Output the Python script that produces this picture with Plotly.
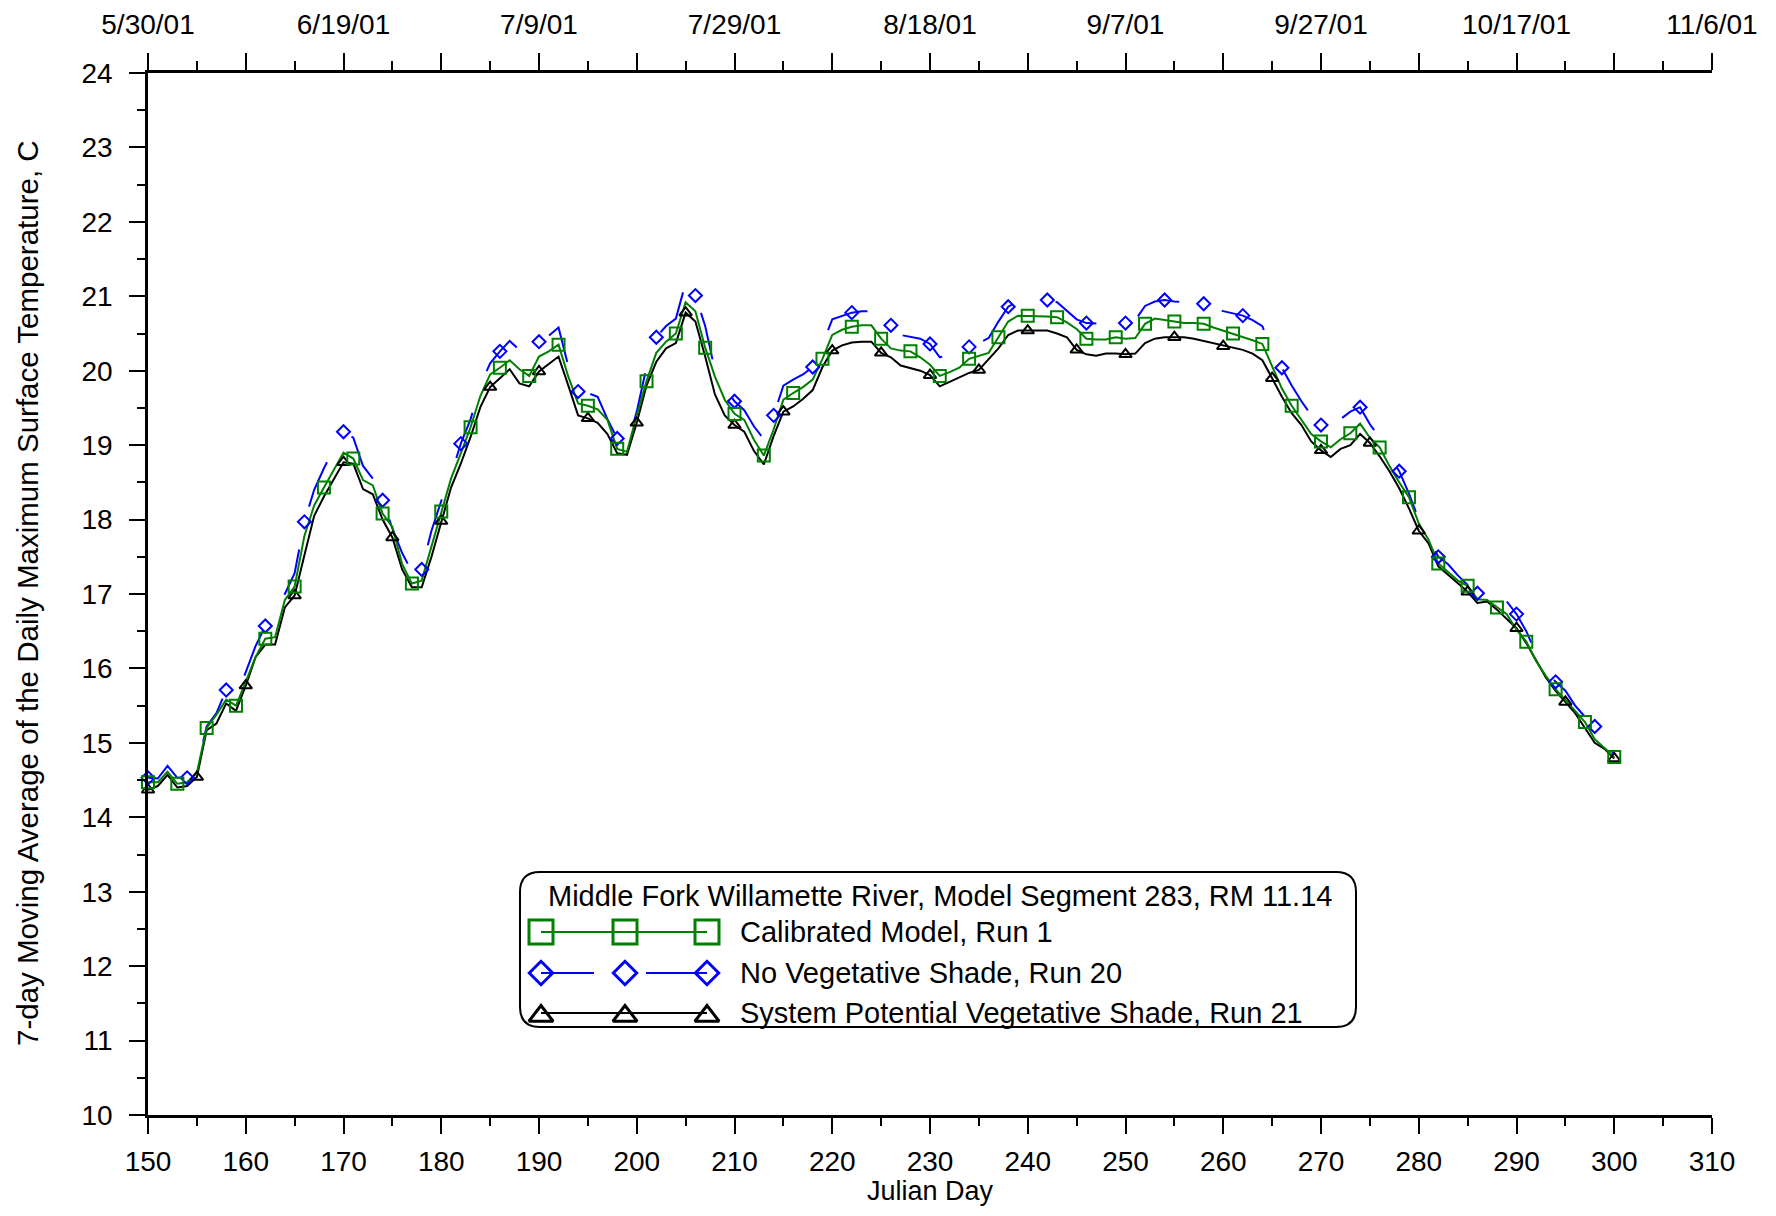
import plotly.graph_objects as go

# ---------------- data ----------------
days = list(range(150, 301))

calibrated_run1 = [
    14.47, 14.47, 14.61, 14.45, 14.47, 14.60, 15.20, 15.38, 15.58, 15.50,  # 150-159
    15.82, 16.15, 16.40, 16.42, 16.92, 17.10, 17.78, 18.19, 18.43, 18.67,  # 160-169
    18.90, 18.82, 18.53, 18.46, 18.08, 17.90, 17.40, 17.14, 17.18, 17.64,  # 170-179
    18.11, 18.55, 18.89, 19.24, 19.66, 19.95, 20.04, 20.14, 20.02, 19.93,  # 180-189
    20.19, 20.26, 20.35, 19.92, 19.56, 19.53, 19.48, 19.34, 18.95, 18.91,  # 190-199
    19.40, 19.86, 20.24, 20.39, 20.50, 20.92, 20.80, 20.31, 19.92, 19.61,  # 200-209
    19.42, 19.34, 19.07, 18.86, 19.21, 19.61, 19.70, 19.78, 19.88, 20.16,  # 210-219
    20.48, 20.55, 20.59, 20.61, 20.61, 20.43, 20.30, 20.27, 20.26, 20.18,  # 220-229
    20.08, 19.93, 19.98, 20.04, 20.16, 20.20, 20.24, 20.45, 20.66, 20.74,  # 230-239
    20.74, 20.74, 20.73, 20.72, 20.65, 20.56, 20.43, 20.42, 20.42, 20.45,  # 240-249
    20.43, 20.44, 20.63, 20.70, 20.68, 20.66, 20.64, 20.64, 20.63, 20.58,  # 250-259
    20.54, 20.50, 20.45, 20.41, 20.36, 20.05, 19.76, 19.53, 19.34, 19.15,  # 260-269
    19.05, 18.97, 19.08, 19.16, 19.29, 19.10, 18.97, 18.72, 18.50, 18.30,  # 270-279
    17.95, 17.73, 17.41, 17.30, 17.18, 17.11, 16.93, 16.92, 16.82, 16.73,  # 280-289
    16.52, 16.36, 16.10, 15.90, 15.72, 15.58, 15.43, 15.28, 15.05, 14.93,  # 290-299
    14.81,                                                                 # 300
]

no_veg_shade_run20 = [
    14.53, 14.52, 14.69, 14.53, 14.53, 14.65, 15.22, 15.40, 15.71, 15.62,
    15.95, 16.30, 16.57, 16.66, 17.00, 17.28, 17.97, 18.40, 18.69, 18.95,
    19.18, 19.10, 18.72, 18.55, 18.26, 17.88, 17.55, 17.30, 17.33, 17.85,
    18.25, 18.60, 19.02, 19.35, 19.80, 20.10, 20.26, 20.40, 20.28, 20.20,
    20.39, 20.47, 20.58, 20.06, 19.72, 19.70, 19.65, 19.35, 19.09, 19.00,
    19.45, 20.05, 20.45, 20.60, 20.70, 21.18, 21.01, 20.60, 20.00, 19.78,
    19.59, 19.47, 19.25, 19.08, 19.40, 19.80, 19.88, 19.95, 20.05, 20.35,
    20.69, 20.74, 20.78, 20.80, 20.80, 20.68, 20.61, 20.48, 20.45, 20.43,
    20.36, 20.18, 20.22, 20.28, 20.32, 20.37, 20.44, 20.66, 20.86, 20.93,
    20.95, 20.95, 20.95, 20.92, 20.80, 20.69, 20.64, 20.63, 20.63, 20.64,
    20.64, 20.68, 20.87, 20.93, 20.95, 20.93, 20.92, 20.92, 20.90, 20.86,
    20.80, 20.77, 20.74, 20.68, 20.60, 20.25, 20.04, 19.80, 19.59, 19.40,
    19.27, 19.25, 19.35, 19.45, 19.51, 19.28, 19.10, 18.85, 18.65, 18.35,
    18.00, 17.75, 17.50, 17.40, 17.25, 17.12, 17.01, 17.03, 16.94, 16.90,
    16.73, 16.50, 16.20, 15.98, 15.82, 15.70, 15.50, 15.35, 15.22, 15.00,
    14.85,
]

system_potential_run21 = [
    14.37, 14.42, 14.57, 14.40, 14.42, 14.54, 15.17, 15.26, 15.53, 15.43,
    15.77, 16.15, 16.32, 16.32, 16.82, 16.98, 17.52, 18.05, 18.31, 18.55,
    18.77, 18.75, 18.41, 18.34, 18.00, 17.76, 17.33, 17.09, 17.09, 17.50,
    17.98, 18.43, 18.75, 19.11, 19.51, 19.78, 19.90, 20.02, 19.83, 19.79,
    19.99, 20.09, 20.19, 19.80, 19.40, 19.36, 19.30, 19.15, 18.89, 18.87,
    19.30, 19.80, 20.12, 20.30, 20.37, 20.78, 20.66, 20.19, 19.68, 19.40,
    19.27, 19.18, 18.92, 18.74, 19.12, 19.45, 19.52, 19.62, 19.74, 20.05,
    20.27, 20.34, 20.38, 20.39, 20.39, 20.24, 20.18, 20.07, 20.03, 20.00,
    19.94, 19.79, 19.85, 19.91, 19.97, 20.01, 20.15, 20.30, 20.48, 20.54,
    20.54, 20.54, 20.54, 20.50, 20.45, 20.28, 20.22, 20.20, 20.23, 20.23,
    20.22, 20.23, 20.37, 20.43, 20.45, 20.45, 20.45, 20.43, 20.40, 20.36,
    20.33, 20.30, 20.28, 20.23, 20.14, 19.90, 19.65, 19.43, 19.27, 19.05,
    18.93, 18.84, 18.95, 19.00, 19.15, 19.03, 18.85, 18.65, 18.42, 18.15,
    17.85, 17.68, 17.37, 17.26, 17.14, 17.03, 16.88, 16.90, 16.79, 16.67,
    16.54, 16.34, 16.10, 15.88, 15.70, 15.55, 15.40, 15.20, 15.00, 14.92,
    14.79,
]

series_names = [
    "Calibrated Model, Run 1",
    "No Vegetative Shade, Run 20",
    "System Potential Vegetative Shade, Run 21",
]
legend_title = "Middle Fork Willamette River, Model Segment 283, RM 11.14"

top_tick_days = [150, 160, 170, 180, 190, 200, 210, 220, 230, 240, 250, 260, 270, 280, 290, 300, 310]
top_tick_text = ["5/30/01", "", "6/19/01", "", "7/9/01", "", "7/29/01", "", "8/18/01", "",
                 "9/7/01", "", "9/27/01", "", "10/17/01", "", "11/6/01"]

# ---------------- styling ----------------
FONT = "Arial, 'Liberation Sans', sans-serif"
GREEN, BLUE, BLACK = "#008000", "#0000FF", "#000000"
PAGE_PAD = 8                       # default body margin of the html page
W, H = 1776 - 2 * PAGE_PAD, 1216 - 2 * PAGE_PAD
# plot-area edges, in page pixels
PL, PR, PT, PB = 148, 1712, 73, 1115

def paper_x(px):
    return (px - PL) / (PR - PL)

def paper_y(py):
    return (PB - py) / (PB - PT)

fig = go.Figure()

# daily lines
fig.add_trace(go.Scatter(x=days, y=system_potential_run21, mode="lines",
                         line=dict(color=BLACK, width=2), showlegend=False, hoverinfo="skip"))
fig.add_trace(go.Scatter(x=days, y=no_veg_shade_run20, mode="lines",
                         line=dict(color=BLUE, width=2, dash="48px,44px"), showlegend=False, hoverinfo="skip"))
fig.add_trace(go.Scatter(x=days, y=calibrated_run1, mode="lines",
                         line=dict(color=GREEN, width=2), showlegend=False, hoverinfo="skip"))

# markers on a subset of the days
fig.add_trace(go.Scatter(x=days[::5], y=system_potential_run21[::5], mode="markers",
                         marker=dict(symbol="triangle-up-open", size=11, color=BLACK,
                                     line=dict(width=2, color=BLACK)),
                         showlegend=False, cliponaxis=False))
fig.add_trace(go.Scatter(x=days[::4], y=no_veg_shade_run20[::4], mode="markers",
                         marker=dict(symbol="diamond-open", size=10, color=BLUE,
                                     line=dict(width=2, color=BLUE)),
                         showlegend=False, cliponaxis=False))
fig.add_trace(go.Scatter(x=days[::3], y=calibrated_run1[::3], mode="markers",
                         marker=dict(symbol="square-open", size=12, color=GREEN,
                                     line=dict(width=2, color=GREEN)),
                         showlegend=False, cliponaxis=False))

# invisible trace for the top date axis
fig.add_trace(go.Scatter(x=days, y=calibrated_run1, xaxis="x2", mode="lines",
                         line=dict(color="rgba(0,0,0,0)", width=0), showlegend=False, hoverinfo="skip"))

# ---------------- hand-built legend (pixel helper axes x3/y3) ----------------
BX0, BX1, BY0, BY1, RAD = 520, 1356, 872, 1027, 20
MX = [541, 625, 707]
ROW_Y = [932, 973, 1013]
LABEL_X = 738

box_path = (f"M {BX0+RAD},{BY0} L {BX1-RAD},{BY0} Q {BX1},{BY0} {BX1},{BY0+RAD} "
            f"L {BX1},{BY1-RAD} Q {BX1},{BY1} {BX1-RAD},{BY1} L {BX0+RAD},{BY1} "
            f"Q {BX0},{BY1} {BX0},{BY1-RAD} L {BX0},{BY0+RAD} Q {BX0},{BY0} {BX0+RAD},{BY0} Z")

leg_styles = [
    (GREEN, "square-open", 24, [(MX[0], MX[2])]),
    (BLUE, "diamond-open", 18, [(MX[0], 594), (646, MX[2])]),
    (BLACK, "triangle-up-open", 21, [(MX[0], MX[2])]),
]
for (color, sym, size, segs), ry in zip(leg_styles, ROW_Y):
    for (a, b) in segs:
        fig.add_trace(go.Scatter(x=[a, b], y=[ry, ry], xaxis="x3", yaxis="y3", mode="lines",
                                 line=dict(color=color, width=2), showlegend=False,
                                 hoverinfo="skip", cliponaxis=False))
    my = ry + (3 if sym.startswith("triangle") else 0)
    fig.add_trace(go.Scatter(x=MX, y=[my] * 3, xaxis="x3", yaxis="y3", mode="markers",
                             marker=dict(symbol=sym, size=size, color=color,
                                         line=dict(width=3, color=color)),
                             showlegend=False, hoverinfo="skip", cliponaxis=False))

annotations = [
    dict(x=940, y=896, xref="x3", yref="y3", text=legend_title, showarrow=False,
         font=dict(family=FONT, size=29, color=BLACK), xanchor="center", yanchor="middle"),
]
for name, ry in zip(series_names, ROW_Y):
    annotations.append(dict(x=LABEL_X, y=ry, xref="x3", yref="y3", text=name, showarrow=False,
                            font=dict(family=FONT, size=29, color=BLACK),
                            xanchor="left", yanchor="middle"))
# axis titles
annotations.append(dict(x=paper_x(930), y=paper_y(1191), xref="paper", yref="paper",
                        text="Julian Day", showarrow=False, borderpad=0,
                        font=dict(family=FONT, size=27, color=BLACK),
                        xanchor="center", yanchor="middle"))
annotations.append(dict(x=paper_x(27), y=paper_y(593), xref="paper", yref="paper",
                        text="7-day Moving Average of the Daily Maximum Surface Temperature, C",
                        textangle=-90, showarrow=False,
                        font=dict(family=FONT, size=29.5, color=BLACK),
                        xanchor="center", yanchor="middle"))

tickfont = dict(family=FONT, size=28, color=BLACK)

fig.update_layout(
    width=W, height=H,
    margin=dict(l=PL - PAGE_PAD, r=1776 - PAGE_PAD - PR, t=PT - PAGE_PAD, b=1216 - PAGE_PAD - PB,
                pad=0, autoexpand=False),
    paper_bgcolor="white", plot_bgcolor="white",
    showlegend=False,
    font=dict(family=FONT, color=BLACK),
    xaxis=dict(range=[150, 310], tickmode="linear", tick0=150, dtick=10,
               ticks="outside", ticklen=16, tickwidth=2, tickcolor=BLACK,
               showline=True, linewidth=2.5, linecolor=BLACK, automargin=False,
               showgrid=False, zeroline=False, tickfont=tickfont, ticklabelstandoff=4,
               minor=dict(tick0=150, dtick=5, ticks="outside", ticklen=8, tickwidth=2,
                          tickcolor=BLACK, showgrid=False),
               anchor="y"),
    xaxis2=dict(range=[150, 310], overlaying="x", side="top", anchor="y",
                tickmode="array", tickvals=top_tick_days, ticktext=top_tick_text,
                ticks="outside", ticklen=17, tickwidth=2, tickcolor=BLACK, automargin=False,
                showline=True, linewidth=2.5, linecolor=BLACK,
                showgrid=False, zeroline=False, tickfont=tickfont, ticklabelstandoff=8,
                minor=dict(tick0=150, dtick=5, ticks="outside", ticklen=9, tickwidth=2,
                           tickcolor=BLACK, showgrid=False)),
    yaxis=dict(range=[10, 24], tickmode="linear", tick0=10, dtick=1,
               ticks="outside", ticklen=16, tickwidth=2, tickcolor=BLACK, automargin=False,
               showline=True, linewidth=2.5, linecolor=BLACK,
               showgrid=False, zeroline=False, tickfont=tickfont, ticklabelstandoff=11,
               minor=dict(tick0=10, dtick=0.5, ticks="outside", ticklen=8, tickwidth=2,
                          tickcolor=BLACK, showgrid=False),
               anchor="x"),
    xaxis3=dict(range=[PL, PR], overlaying="x", anchor="y3", visible=False, fixedrange=True),
    yaxis3=dict(range=[PB, PT], overlaying="y", anchor="x3", visible=False, fixedrange=True),
    shapes=[dict(type="path", path=box_path, xref="x3", yref="y3",
                 line=dict(color=BLACK, width=2), fillcolor="white", layer="below")],
    annotations=annotations,
)

fig.write_html("out.html")
